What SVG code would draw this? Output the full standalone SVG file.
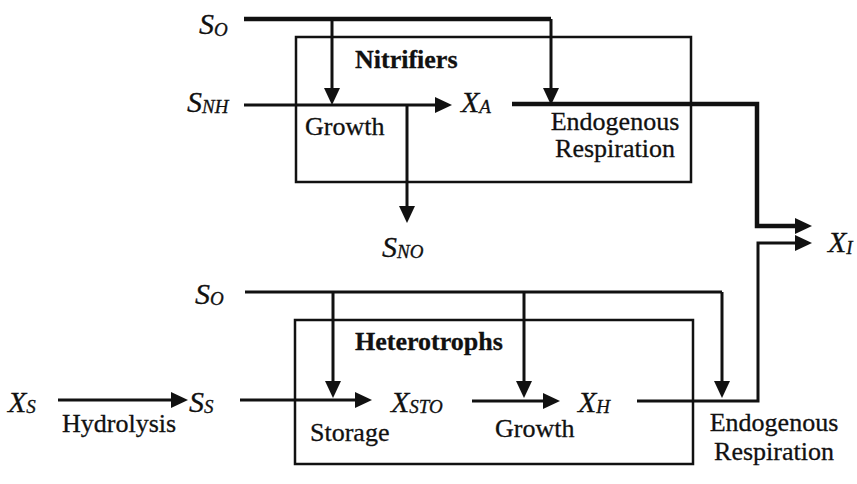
<svg xmlns="http://www.w3.org/2000/svg" width="857" height="484" viewBox="0 0 857 484">
<style>
.sym{font-family:"Liberation Serif","Times New Roman",serif;font-style:italic;font-size:30px;fill:#111;stroke:#111;stroke-width:0.3}
.sub{font-size:19px}
.lbl{font-family:"Liberation Serif","Times New Roman",serif;font-size:26px;fill:#111;stroke:#111;stroke-width:0.3}
.bold{font-weight:bold}
.box{fill:none;stroke:#111;stroke-width:2.5}
.ln{fill:none;stroke:#111;stroke-width:3;marker-end:url(#ah)}
.ln0{fill:none;stroke:#111;stroke-width:3}
.thk{stroke-width:4.5}
</style>
<defs>
<marker id="ah" markerUnits="userSpaceOnUse" markerWidth="17" markerHeight="16" refX="3" refY="8" orient="auto" viewBox="0 0 17 16">
<path d="M0,0 L17,8 L0,16 z" fill="#111"/>
</marker>
</defs>
<g id="nitrifiers">
<rect class="box" x="296" y="37" width="395" height="145"/>
<text class="lbl bold" x="355" y="68">Nitrifiers</text>
<text class="lbl" x="305" y="135">Growth</text>
<text class="lbl" x="615" y="130" text-anchor="middle">Endogenous</text>
<text class="lbl" x="615" y="157" text-anchor="middle">Respiration</text>
</g>
<g id="heterotrophs">
<rect class="box" x="295" y="320" width="398" height="144"/>
<text class="lbl bold" x="355" y="350">Heterotrophs</text>
<text class="lbl" x="310" y="441">Storage</text>
<text class="lbl" x="495" y="437">Growth</text>
</g>
<g id="endo-h"><text class="lbl" x="774" y="431" text-anchor="middle">Endogenous</text>
<text class="lbl" x="774" y="460" text-anchor="middle">Respiration</text></g>
<g id="hydrolysis"><text class="lbl" x="62" y="432">Hydrolysis</text></g>
<g id="SO-top"><text class="sym" x="199" y="34">S<tspan class="sub" dy="2">O</tspan></text></g>
<g id="SNH"><text class="sym" x="187" y="112">S<tspan class="sub" dy="1">NH</tspan></text></g>
<g id="XA"><text class="sym" x="461" y="112">X<tspan class="sub" dy="1">A</tspan></text></g>
<g id="SNO"><text class="sym" x="382" y="257">S<tspan class="sub" dy="1">NO</tspan></text></g>
<g id="XI"><text class="sym" x="828" y="252">X<tspan class="sub" dy="2">I</tspan></text></g>
<g id="SO-bot"><text class="sym" x="195" y="304">S<tspan class="sub" dy="1">O</tspan></text></g>
<g id="XS"><text class="sym" x="8" y="412">X<tspan class="sub" dy="1">S</tspan></text></g>
<g id="SS"><text class="sym" x="189" y="412">S<tspan class="sub" dy="1">S</tspan></text></g>
<g id="XSTO"><text class="sym" x="391" y="412">X<tspan class="sub" dy="1">STO</tspan></text></g>
<g id="XH"><text class="sym" x="578" y="412">X<tspan class="sub" dy="1">H</tspan></text></g>
<g id="connectors">
<path class="ln0 thk" d="M244,19 H551"/>
<path class="ln" d="M332,19 V91"/>
<path class="ln" d="M551,19 V91"/>
<path class="ln" d="M244,105 H438"/>
<path class="ln" d="M407,105 V209"/>
<path class="ln thk" d="M512,104 H757 V226 H798"/>
<path class="ln" d="M637,401 H758 V243 H798"/>
<path class="ln0" d="M245,292 H722"/>
<path class="ln" d="M722,292 V384"/>
<path class="ln" d="M333,292 V384"/>
<path class="ln" d="M524,292 V384"/>
<path class="ln" d="M58,400 H174"/>
<path class="ln" d="M240,400 H358"/>
<path class="ln" d="M472,401 H546"/>
</g>
</svg>
